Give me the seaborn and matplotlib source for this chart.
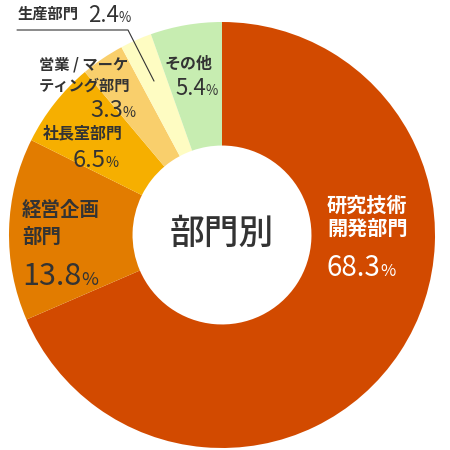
import numpy as np
import matplotlib
matplotlib.use('Agg')
import matplotlib.pyplot as plt
import seaborn as sns

sns.set_theme(style='white')
plt.rcParams['font.family'] = ['Noto Sans CJK JP', 'DejaVu Sans']

# 部門別の割合 (時計回り、上から)
departments = ['研究技術開発部門', '経営企画部門', '社長室部門',
               '営業 / マーケティング部門', '生産部門', 'その他']
shares = [68.3, 13.8, 6.5, 3.3, 2.4, 5.4]
colors = ['#D24A00', '#E27C00', '#F6AF00', '#F9CF6C', '#FEFCC2', '#C7EDB1']

fig = plt.figure(figsize=(4.5, 4.5), dpi=100)
ax = fig.add_axes([0, 0, 1, 1])

H = 450
cx, cy, R = 222, H - 235, 213
wedges, _ = ax.pie(shares, colors=colors, startangle=90, counterclock=False,
                   center=(cx, cy), radius=R,
                   wedgeprops=dict(width=R * 0.58, linewidth=0))
ax.set_xlim(0, 450)
ax.set_ylim(0, 450)
ax.set_aspect('equal')
ax.axis('off')

ax.text(cx, H - 234, '部門別', ha='center', va='center', fontsize=25,
        color='#333333', fontweight='medium')

dark = '#333333'


def label(x, y, s, size, color=dark, weight='bold'):
    ax.text(x, H - y, s, ha='left', va='center', fontsize=size,
            color=color, fontweight=weight)


def number(x, base, s, size, color=dark):
    t = ax.text(x, H - base, s, ha='left', va='baseline', fontsize=size,
                color=color)
    fig.canvas.draw()
    bb = t.get_window_extent().transformed(ax.transData.inverted())
    ax.text(bb.x1 - 0.5, H - base, '%', ha='left', va='baseline',
            fontsize=size * 0.6, color=color)


# 研究技術開発部門
label(327, 205, '研究技術', 14.5, color='white')
label(327, 228, '開発部門', 14.5, color='white')
number(327, 276, f'{shares[0]}', 20, color='white')

# 経営企画部門
label(22, 211, '経営企画', 14)
label(22, 237, '部門', 14)
number(22, 285, f'{shares[1]}', 22)

# 社長室部門
label(43, 133, '社長室部門', 11.5)
number(73, 167, f'{shares[2]}', 17)

# 営業 / マーケティング部門
label(39, 64, '営業 / マーケ', 11)
label(39, 86, 'ティング部門', 11)
number(90, 117, f'{shares[3]}', 17)

# 生産部門
label(18, 14, '生産部門', 11)
number(88, 22, f'{shares[4]}', 16)

# その他
label(165, 64, 'その他', 11.5)
number(175, 95, f'{shares[5]}', 16)

# 生産部門への引き出し線
w = wedges[4]
mid = np.deg2rad((w.theta1 + w.theta2) / 2)
px, py = cx + 0.79 * R * np.cos(mid), cy + 0.79 * R * np.sin(mid)
ax.plot([17, 128, px], [H - 30, H - 30, py], color='#333333', lw=0.8)

fig.savefig('out.png', dpi=100)
